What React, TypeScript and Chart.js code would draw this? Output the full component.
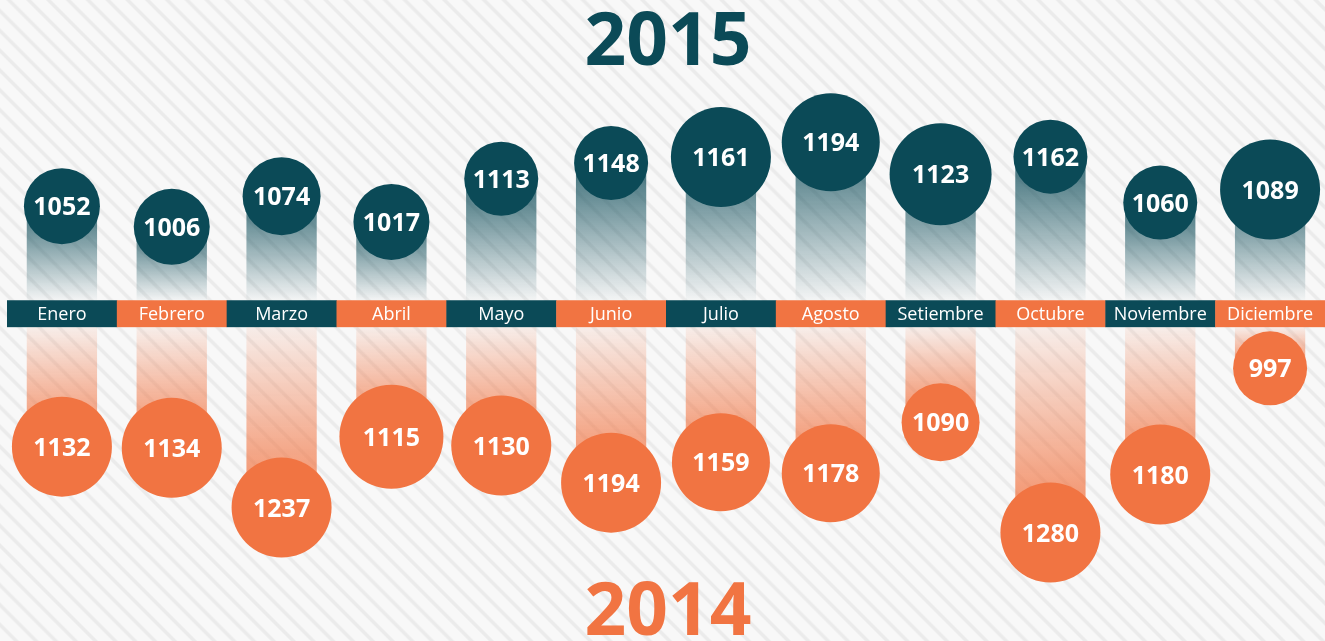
import React, { useEffect, useRef } from "react";
import { Chart, registerables } from "chart.js";

Chart.register(...registerables);

const MONTHS = ["Enero", "Febrero", "Marzo", "Abril", "Mayo", "Junio", "Julio", "Agosto", "Setiembre", "Octubre", "Noviembre", "Diciembre"];
const VALUES_2015 = [1052, 1006, 1074, 1017, 1113, 1148, 1161, 1194, 1123, 1162, 1060, 1089];
const VALUES_2014 = [1132, 1134, 1237, 1115, 1130, 1194, 1159, 1178, 1090, 1280, 1180, 997];
const YEAR_TOP = "2015";
const YEAR_BOTTOM = "2014";

// styles
const TEAL = "#0b4a57";
const ORANGE = "#f17442";
const RADIUS_2015 = [38, 38, 39, 38, 37, 37, 50, 49, 51, 37, 37, 50];
const RADIUS_2014 = [50, 50, 50, 52, 50, 50, 49, 49, 39, 50, 50, 37];

// axis layout (value units where the month band sits)
const TOP_MIN = 86, TOP_MAX = 1510, TOP_BASE = 843;
const BOT_MIN = 362, BOT_MAX = 1467, BOT_BASE = 926;
const FONT = '"Open Sans", "DejaVu Sans", sans-serif';

const infographicPlugin = {
  id: "infographic",
  beforeDatasetsDraw(chart: any) {
    const { ctx } = chart;
    const xs = chart.scales.x;
    const yTop = chart.scales.yTop.getPixelForValue(TOP_BASE);
    const yBot = chart.scales.yBot.getPixelForValue(BOT_BASE);
    const w = (xs.right - xs.left) / MONTHS.length;
    ctx.save();
    MONTHS.forEach((m, i) => {
      const cx = xs.getPixelForValue(i);
      ctx.fillStyle = i % 2 === 0 ? TEAL : ORANGE;
      ctx.fillRect(cx - w / 2, yTop, w + 0.5, yBot - yTop);
      ctx.fillStyle = "#ffffff";
      ctx.font = `18px ${FONT}`;
      ctx.textAlign = "center";
      ctx.textBaseline = "alphabetic";
      ctx.fillText(m, cx, (yTop + yBot) / 2 + 6.5);
    });
    ctx.restore();
  },
  afterDatasetsDraw(chart: any) {
    const { ctx } = chart;
    ctx.save();
    ctx.textAlign = "center";
    ctx.textBaseline = "alphabetic";
    [0, 1].forEach((di) => {
      const meta = chart.getDatasetMeta(di);
      const vals = di === 0 ? VALUES_2015 : VALUES_2014;
      meta.data.forEach((pt: any, i: number) => {
        ctx.fillStyle = "#ffffff";
        ctx.font = `bold 25px ${FONT}`;
        ctx.fillText(String(vals[i]), pt.x, pt.y + 9);
      });
    });
    const cx = 668;
    ctx.font = `bold 73px ${FONT}`;
    ctx.fillStyle = TEAL;
    ctx.fillText(YEAR_TOP, cx, 65);
    ctx.fillStyle = ORANGE;
    ctx.fillText(YEAR_BOTTOM, cx, 635);
    ctx.restore();
  },
};

function stemGradient(ctxArg: any, axis: string, base: number, rgb: string, aValue: number, aBase: number) {
  const chart = ctxArg.chart;
  const scale = chart.scales && chart.scales[axis];
  const raw = ctxArg.raw;
  if (!scale || !Array.isArray(raw)) return `rgba(${rgb},0.3)`;
  const yv = scale.getPixelForValue(raw[1]);
  const yb = scale.getPixelForValue(base);
  if (!isFinite(yv) || !isFinite(yb) || yv === yb) return `rgba(${rgb},0.3)`;
  const g = chart.ctx.createLinearGradient(0, yv, 0, yb);
  g.addColorStop(0, `rgba(${rgb},${aValue})`);
  g.addColorStop(1, `rgba(${rgb},${aBase})`);
  return g;
}

export default function App() {
  const ref = useRef<HTMLCanvasElement | null>(null);
  useEffect(() => {
    if (!ref.current) return;
    const chart = new Chart(ref.current, {
      type: "bar",
      data: {
        labels: MONTHS,
        datasets: [
          {
            type: "line",
            label: YEAR_TOP,
            data: VALUES_2015,
            yAxisID: "yTop",
            showLine: false,
            pointRadius: RADIUS_2015,
            pointHoverRadius: RADIUS_2015,
            pointBackgroundColor: TEAL,
            pointBorderWidth: 0,
            order: 0,
          } as any,
          {
            type: "line",
            label: YEAR_BOTTOM,
            data: VALUES_2014,
            yAxisID: "yBot",
            showLine: false,
            pointRadius: RADIUS_2014,
            pointHoverRadius: RADIUS_2014,
            pointBackgroundColor: ORANGE,
            pointBorderWidth: 0,
            order: 0,
          } as any,
          {
            type: "bar",
            label: YEAR_TOP + " stem",
            data: VALUES_2015.map((v) => [TOP_BASE, v]),
            yAxisID: "yTop",
            grouped: false,
            barPercentage: 0.64,
            categoryPercentage: 1,
            borderWidth: 0,
            backgroundColor: (c: any) => stemGradient(c, "yTop", TOP_BASE, "11,74,87", 0.8, 0.02),
            order: 1,
          } as any,
          {
            type: "bar",
            label: YEAR_BOTTOM + " stem",
            data: VALUES_2014.map((v) => [BOT_BASE, v]),
            yAxisID: "yBot",
            grouped: false,
            barPercentage: 0.64,
            categoryPercentage: 1,
            borderWidth: 0,
            backgroundColor: (c: any) => stemGradient(c, "yBot", BOT_BASE, "241,116,66", 0.85, 0.08),
            order: 1,
          } as any,
        ],
      },
      options: {
        animation: false,
        responsive: false,
        devicePixelRatio: 1,
        events: [],
        layout: { autoPadding: false, padding: { left: 7, right: 0, top: 0, bottom: 0 } },
        plugins: { legend: { display: false }, tooltip: { enabled: false } },
        scales: {
          x: { type: "category", display: false, offset: true },
          yTop: { type: "linear", display: false, min: TOP_MIN, max: TOP_MAX },
          yBot: { type: "linear", display: false, min: BOT_MIN, max: BOT_MAX, reverse: true },
        },
      },
      plugins: [infographicPlugin],
    } as any);
    return () => chart.destroy();
  }, []);

  return (
    <div
      style={{
        position: "absolute",
        left: 0,
        top: 0,
        width: 1325,
        height: 641,
        overflow: "hidden",
        background:
          "repeating-linear-gradient(45deg, #f8f8f8 0px, #f8f8f8 9px, #ebebeb 10.5px, #ebebeb 12.5px, #f8f8f8 14px)",
      }}
    >
      <canvas ref={ref} width={1325} height={641} style={{ display: "block", width: 1325, height: 641 }} />
    </div>
  );
}
